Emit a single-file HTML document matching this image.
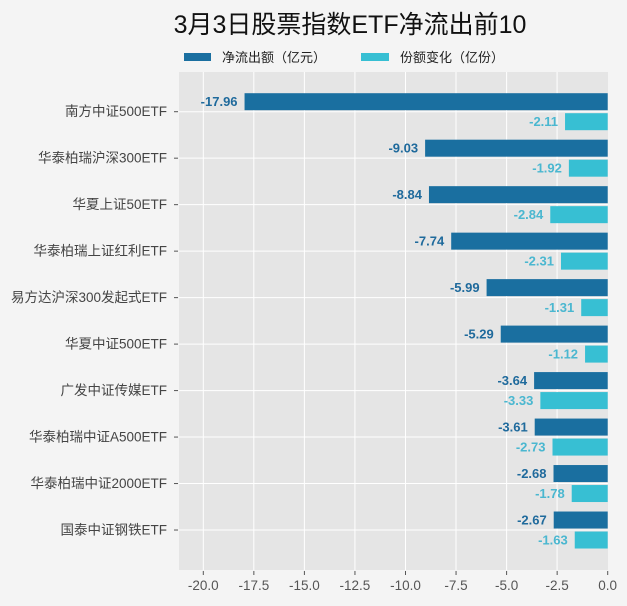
<!DOCTYPE html>
<html><head><meta charset="utf-8"><style>
html,body{margin:0;padding:0;background:#f4f4f4;}
svg{display:block;font-family:"Liberation Sans","Noto Sans CJK SC",sans-serif;}
</style></head><body>
<svg width="627" height="606" viewBox="0 0 627 606" xmlns="http://www.w3.org/2000/svg">
<rect width="627" height="606" fill="#f4f4f4"/>
<text x="350" y="33" text-anchor="middle" font-size="25" fill="#111">3月3日股票指数ETF净流出前10</text>
<rect x="184" y="53" width="27" height="8" fill="#1a6fa0"/>
<text x="222" y="62" font-size="13" fill="#222">净流出额（亿元）</text>
<rect x="361" y="53" width="28" height="8" fill="#37bfd3"/>
<text x="400" y="62" font-size="13" fill="#222">份额变化（亿份）</text>
<rect x="179" y="72" width="429" height="498" fill="#e5e5e5"/>
<g stroke="#fff" stroke-width="1">
<line x1="203.3" y1="72" x2="203.3" y2="570"/><line x1="253.8" y1="72" x2="253.8" y2="570"/>
<line x1="304.4" y1="72" x2="304.4" y2="570"/><line x1="354.9" y1="72" x2="354.9" y2="570"/>
<line x1="405.5" y1="72" x2="405.5" y2="570"/><line x1="456" y1="72" x2="456" y2="570"/>
<line x1="506.6" y1="72" x2="506.6" y2="570"/><line x1="557.1" y1="72" x2="557.1" y2="570"/>
</g>
<g stroke="#fff" stroke-width="1" id="hg"></g>
<g id="bars"></g>
<g font-size="13.5" fill="#555" text-anchor="middle" id="xt"></g>
<g font-size="13.5" fill="#444" text-anchor="end" id="yl"></g>
<script>
var ns="http://www.w3.org/2000/svg";
function el(p,t,a,txt){var e=document.createElementNS(ns,t);for(var k in a)e.setAttribute(k,a[k]);if(txt!=null)e.textContent=txt;document.getElementById(p).appendChild(e);}
var names=["南方中证500ETF","华泰柏瑞沪深300ETF","华夏上证50ETF","华泰柏瑞上证红利ETF","易方达沪深300发起式ETF","华夏中证500ETF","广发中证传媒ETF","华泰柏瑞中证A500ETF","华泰柏瑞中证2000ETF","国泰中证钢铁ETF"];
var a=[-17.96,-9.03,-8.84,-7.74,-5.99,-5.29,-3.64,-3.61,-2.68,-2.67];
var b=[-2.11,-1.92,-2.84,-2.31,-1.31,-1.12,-3.33,-2.73,-1.78,-1.63];
var x0=607.7,s=20.22;
for(var i=0;i<10;i++){var c=111.7+i*46.48;
el("hg","line",{x1:179,y1:c,x2:608,y2:c});
var xa=x0+a[i]*s,xb=x0+b[i]*s;
el("bars","rect",{x:xa,y:c-18.5,width:x0-xa,height:17,fill:"#1a6fa0"});
el("bars","rect",{x:xb,y:c+1.5,width:x0-xb,height:17,fill:"#37bfd3"});
el("bars","text",{x:xa-7,y:c-5.5,"font-size":13,"font-weight":"bold",fill:"#1f6a9c","text-anchor":"end"},a[i].toFixed(2));
el("bars","text",{x:xb-7,y:c+14.5,"font-size":13,"font-weight":"bold",fill:"#4ab7d0","text-anchor":"end"},b[i].toFixed(2));
el("yl","text",{x:167,y:c+4.5},names[i]);
el("yl","line",{x1:174,y1:c,x2:178,y2:c,stroke:"#555"});
}
for(var j=0;j<=8;j++){var v=-20+j*2.5,x=x0+v*s;
el("xt","line",{x1:x,y1:571,x2:x,y2:575,stroke:"#555"});
el("xt","text",{x:x,y:590},v.toFixed(1));}
</script>
</svg>
</body></html>
